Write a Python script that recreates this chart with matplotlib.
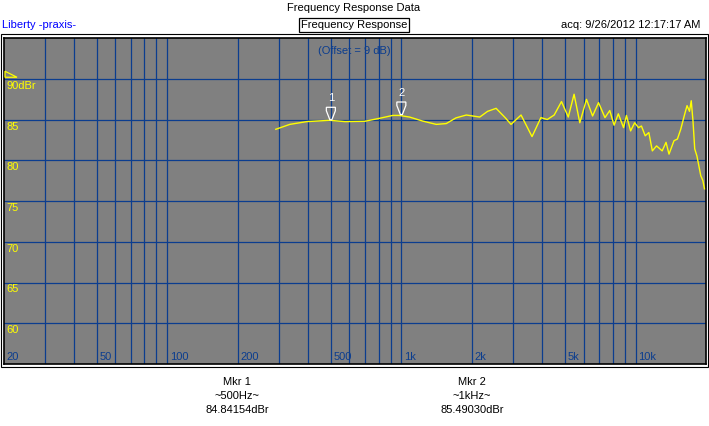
import matplotlib
matplotlib.use("Agg")
import matplotlib.pyplot as plt
import matplotlib.transforms as mtransforms
from matplotlib.patches import Polygon, Rectangle

plt.rcParams['font.family'] = ['Liberation Sans', 'DejaVu Sans']

# datos
freq_hz = [291, 334, 394, 495, 574, 698, 808, 919, 980, 1084, 1236, 1410, 1555, 1712,
           1895, 2162, 2335, 2539, 2781, 2940, 3245, 3615, 3944, 4200, 4495, 4830,
           5163, 5466, 5783, 6175, 6556, 6953, 7405, 7764, 8100, 8445, 8892, 9145,
           9530, 9917, 10300, 10600, 11000, 11400, 11800, 12300, 13000, 13500, 13900,
           14600, 15100, 15600, 16200, 16600, 17000, 17300, 17600, 17900, 18300,
           19000, 19400, 19700]
nivel_dbr = [83.8, 84.4, 84.74, 84.9, 84.74, 84.78, 85.15, 85.5, 85.5, 85.3, 84.8, 84.4,
             84.5, 85.2, 85.55, 85.3, 86.0, 86.37, 85.2, 84.4, 85.55, 82.9, 85.23, 85.0,
             85.55, 87.2, 85.3, 88.1, 84.6, 87.47, 85.43, 87.07, 85.23, 86.1, 84.3, 85.7,
             84.0, 85.5, 83.6, 84.6, 84.0, 84.2, 83.0, 83.4, 81.15, 81.76, 81.15, 82.2,
             80.75, 82.4, 82.6, 83.8, 85.6, 86.7, 86.0, 87.3, 84.8, 81.4, 80.5, 78.1,
             77.5, 76.5]

marcadores = ["1", "2"]
mkr_freq = [500, 1000]
mkr_texto_freq = ["~500Hz~", "~1kHz~"]
mkr_nivel = [84.84154, 85.49030]

x_ticks = [20, 50, 100, 200, 500, 1000, 2000, 5000, 10000]
x_labels = ["20", "50", "100", "200", "500", "1k", "2k", "5k", "10k"]
y_ticks = [60, 65, 70, 75, 80, 85, 90]
y_labels = ["60", "65", "70", "75", "80", "85", "90dBr"]
nivel_ref = 90
offset_db = 9

W, H = 709, 426
azul = '#0b3d8f'

fig = plt.figure(figsize=(W / 100, H / 100), dpi=100)
fig.patch.set_facecolor('white')

def fx(px):
    return px / W

def fy(py):
    return 1 - py / H

# marco exterior
fig.patches.append(Rectangle((fx(1), fy(367)), fx(707) - fx(0), fy(34) - fy(367),
                             transform=fig.transFigure, fill=False, ec='black', lw=0.8))

ax = fig.add_axes([fx(3.5), fy(364), fx(702.5), fy(38) - fy(364)])
ax.set_facecolor('#808080')
ax.set_xscale('log')
ax.set_xlim(20, 20000)
ax.set_ylim(55, 95)
for s in ax.spines.values():
    s.set_color('black')
    s.set_linewidth(1.2)
ax.set_xticks([])
ax.set_yticks([])
ax.minorticks_off()

# rejilla
lineas_v = [d * m for d in (10, 100, 1000) for m in range(1, 10)] + [10000]
for f in lineas_v:
    if 20 < f < 20000:
        ax.axvline(f, color=azul, lw=0.9, zorder=1)
for v in y_ticks:
    ax.axhline(v, color=azul, lw=0.9, zorder=1)

# curva
ax.plot(freq_hz, nivel_dbr, color='#ffff00', lw=1.0, zorder=3)

# etiquetas de ejes
for v, t in zip(y_ticks, y_labels):
    ax.annotate(t, xy=(20, v), xytext=(3, -2), textcoords='offset pixels',
                ha='left', va='top', color='#ffff00', fontsize=8)
for f, t in zip(x_ticks, x_labels):
    ax.annotate(t, xy=(f, 0), xycoords=('data', 'axes fraction'), xytext=(3, 4),
                textcoords='offset pixels', ha='left', va='baseline', color=azul, fontsize=8)

# triangulo de referencia
tri = Polygon([(0.015, 0.015), (0.015, 0.075), (0.135, 0.015)], closed=True, fill=False,
              ec='#ffff00', lw=0.9, zorder=4,
              transform=fig.dpi_scale_trans + mtransforms.ScaledTranslation(20, nivel_ref, ax.transData))
ax.add_patch(tri)

ax.text(0.5, 0.975, f"(Offset = {offset_db} dB)", transform=ax.transAxes, ha='center', va='top',
        color=azul, fontsize=8, zorder=0.5)

# marcadores
forma = [(-0.01, 0.01), (0.01, 0.01), (0.045, 0.10), (0.045, 0.135),
         (-0.045, 0.135), (-0.045, 0.10)]
for m, f, v in zip(marcadores, mkr_freq, mkr_nivel):
    tr = fig.dpi_scale_trans + mtransforms.ScaledTranslation(f, v, ax.transData)
    ax.add_patch(Polygon(forma, closed=True, fill=False, ec='white', lw=0.9, transform=tr, zorder=4))
    ax.annotate(m, xy=(f, v), xytext=(0, 18), textcoords='offset pixels',
                ha='center', va='bottom', color='white', fontsize=8)

# textos de cabecera
fig.text(fx(354), fy(8), "Frequency Response Data", ha='center', va='center', fontsize=8)
fig.text(fx(354), fy(25), "Frequency Response", ha='center', va='center', fontsize=8,
         bbox=dict(boxstyle='square,pad=0.15', fc='white', ec='black', lw=0.9))
fig.text(fx(2), fy(25), "Liberty -praxis-", ha='left', va='center', fontsize=8, color='#0000ff')
fig.text(fx(700), fy(25), "acq: 9/26/2012 12:17:17 AM", ha='right', va='center', fontsize=8)

# lecturas de marcadores
pos_x = [237, 472]
for i, v in enumerate(mkr_nivel):
    cx = pos_x[i]
    fig.text(fx(cx), fy(382), f"Mkr {marcadores[i]}", ha='center', va='center', fontsize=8)
    fig.text(fx(cx), fy(396), mkr_texto_freq[i], ha='center', va='center', fontsize=8)
    fig.text(fx(cx), fy(410), f"{v:.5f}dBr", ha='center', va='center', fontsize=8)

fig.savefig("out.png", dpi=100)
